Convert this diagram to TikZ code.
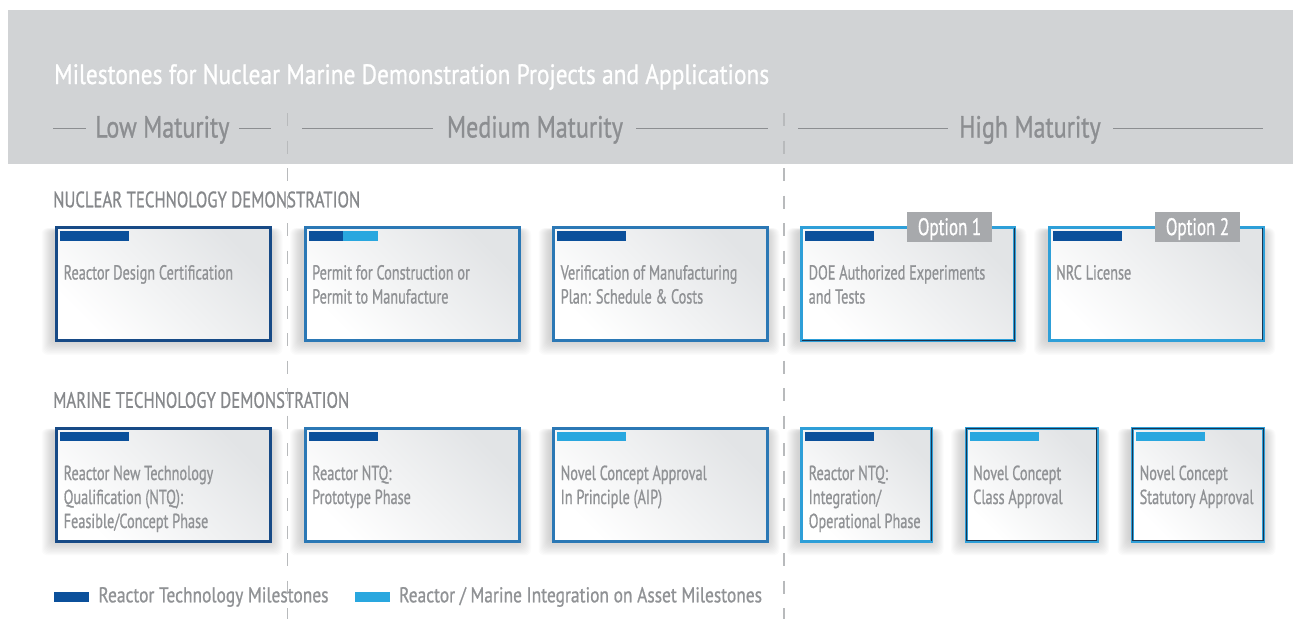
\documentclass[tikz,border=0pt]{standalone}
\usepackage{fontspec}
\setmainfont{PT Sans}[FakeBold=1]
\usepackage{graphicx}
\usetikzlibrary{calc}

\definecolor{banner}{HTML}{D1D3D5}
\definecolor{matgray}{HTML}{8C8E91}
\definecolor{headgray}{HTML}{86888B}
\definecolor{cardtextgray}{HTML}{909295}
\definecolor{dashgray}{HTML}{B8BABC}
\definecolor{navy}{HTML}{174A86}
\definecolor{midblue}{HTML}{2B78B5}
\definecolor{lightblue}{HTML}{2E9FD8}
\definecolor{inkline}{HTML}{1C3550}
\definecolor{darkbar}{HTML}{0B509B}
\definecolor{lightbar}{HTML}{29A7DF}
\definecolor{cardtop}{HTML}{E2E4E6}
\definecolor{taggray}{HTML}{A7A9AC}

% font sizes for each kind of text
\newcommand\titlefont{\fontsize{28}{34}\selectfont}
\newcommand\matfont{\fontsize{30.5}{36}\selectfont}
\newcommand\headfont{\fontsize{22.3}{26}\selectfont}
\newcommand\cardfont{\fontsize{20.3}{24}\selectfont}
\newcommand\legfont{\fontsize{21.4}{26}\selectfont}
\newcommand\optfont{\fontsize{24}{28}\selectfont}

% horizontal condensing factor: target width / natural width of a sample
\newlength\natw
\newcommand\fitfactor[4]{%
  \settowidth{\natw}{#2#3}%
  \pgfmathsetmacro#1{#4/\natw}}

\newcommand\cl[1]{\scalebox{\cardsx}[1]{#1}}
\newcommand\cardlines[1]{\begin{tabular}[t]{@{}l@{}}#1\end{tabular}}

% card: shadow, then the shaded box node  {name}{left}{top}{outer width}{border colour}
\newcommand\card[5]{%
  \foreach \k in {1,...,12}{
    \fill[black,opacity=0.016,rounded corners=6pt]
      (#2-\k, #3+6-0.2*\k) rectangle (#2+#4+\k, #3+116+1.2*\k);
  }
  \node[cardbox, draw=#5, minimum width={#4*1pt-3pt}] (#1) at (#2+1.5,#3+1.5) {};
}

\begin{document}
\fitfactor\titlesx\titlefont{Milestones for Nuclear Marine Demonstration Projects and Applications}{715}%
\fitfactor\matsx\matfont{Medium Maturity}{176}%
\fitfactor\headsx\headfont{NUCLEAR TECHNOLOGY DEMONSTRATION}{307}%
\fitfactor\cardsx\cardfont{Reactor Design Certification}{169.4}%
\fitfactor\legsx\legfont{Reactor Technology Milestones}{230}%
\fitfactor\optsx\optfont{Option 1}{63.3}%
\begin{tikzpicture}[x=1pt,y=-1pt,
  txt/.style={inner sep=0pt, anchor=base west},
  cardbox/.style={anchor=north west, inner sep=0pt, line width=3pt,
    minimum height=113pt, top color=cardtop, bottom color=white, shading angle=-45},
  cardtext/.style={txt, font=\cardfont, text=cardtextgray},
  bar/.style={anchor=north west, inner sep=0pt, minimum width=69pt, minimum height=9.5pt},
  halfbar/.style={bar, minimum width=34.5pt},
  tag/.style={fill=taggray, text=white, font=\optfont, inner sep=0pt,
    minimum width=85.6pt, minimum height=30pt, text height=16.8pt, text depth=0pt},
  matline/.style={draw=matgray, line width=1.2pt},
  sep/.style={draw=dashgray, line width=1.3pt, dash pattern=on 13pt off 14.5pt},
  inner edge/.style={draw=inkline, line width=0.9pt},
  legbar/.style={anchor=north west, inner sep=0pt, minimum width=35pt, minimum height=10pt}
]
\useasboundingbox (0,0) rectangle (1293,619);

% header band
\fill[banner] (8,10) rectangle (1293,164);
\node[txt, text=white, font=\titlefont] (title) at (54,84)
  {\scalebox{\titlesx}[1]{Milestones for Nuclear Marine Demonstration Projects and Applications}};

% maturity labels with rules
\node[txt, anchor=base, font=\matfont, text=matgray] (low) at (162.4,137.5) {\scalebox{\matsx}[1]{Low Maturity}};
\node[txt, anchor=base, font=\matfont, text=matgray] (med) at (535,137.5) {\scalebox{\matsx}[1]{Medium Maturity}};
\node[txt, anchor=base, font=\matfont, text=matgray] (high) at (1030,137.5) {\scalebox{\matsx}[1]{High Maturity}};
\coordinate (la) at (53,128.5);   \coordinate (lb) at (85.5,128.5);
\coordinate (lc) at (239,128.5);  \coordinate (ld) at (270.5,128.5);
\coordinate (ma) at (302,128.5);  \coordinate (mb) at (433,128.5);
\coordinate (mc) at (636,128.5);  \coordinate (md) at (768,128.5);
\coordinate (ha) at (798,128.5);  \coordinate (hb) at (948,128.5);
\coordinate (hc) at (1113,128.5); \coordinate (hd) at (1263,128.5);
\draw[matline] (la) -- (lb) (lc) -- (ld) (ma) -- (mb) (mc) -- (md) (ha) -- (hb) (hc) -- (hd);

% section headings
\node[txt, font=\headfont, text=headgray] (nuchead) at (53,207.3) {\scalebox{\headsx}[1]{NUCLEAR TECHNOLOGY DEMONSTRATION}};
\node[txt, font=\headfont, text=headgray] (marhead) at (53,407.8) {\scalebox{\headsx}[1]{MARINE TECHNOLOGY DEMONSTRATION}};

% cards: nuclear row
\card{n1}{53.5}{224.5}{217}{navy}
\card{n2}{302}{224.5}{217}{midblue}
\card{n3}{550.5}{224.5}{217}{midblue}
\card{n4}{798.5}{224.5}{216}{lightblue}
\card{n5}{1046}{224.5}{217}{lightblue}
% cards: marine row
\card{m1}{53.5}{425}{217}{navy}
\card{m2}{302}{425}{217}{midblue}
\card{m3}{550.5}{425}{217}{midblue}
\card{m4}{798.5}{425}{133}{lightblue}
\card{m5}{963}{425}{134}{lightblue}
\card{m6}{1129.5}{425}{134}{lightblue}

% dark inner edges on the high-maturity cards
\draw[inner edge] ([shift={(-1.8,1.8)}]n4.north east) -- ([shift={(-1.8,-1.8)}]n4.south east) -- ([shift={(1.8,-1.8)}]n4.south west);
\draw[inner edge] ([shift={(-1.8,1.8)}]n5.north east) -- ([shift={(-1.8,-1.8)}]n5.south east);
\draw[inner edge] ([shift={(-1.8,1.8)}]m4.north east) -- ([shift={(-1.8,-1.8)}]m4.south east);
\draw[inner edge] ([shift={(1.8,1.8)}]m5.north west) rectangle ([shift={(-1.8,-1.8)}]m5.south east);
\draw[inner edge] ([shift={(1.8,1.8)}]m6.north west) rectangle ([shift={(-1.8,-1.8)}]m6.south east);

% maturity separators
\coordinate (s1top) at (287.3,113); \coordinate (s1bot) at (287.3,619);
\coordinate (s2top) at (784,113);   \coordinate (s2bot) at (784,619);
\draw[sep] (s1top) -- (s1bot);
\draw[sep] (s2top) -- (s2bot);

% milestone bars
\node[bar, fill=darkbar] (n1bar) at ($(n1.north west)+(5.2,5)$) {};
\node[halfbar, fill=darkbar] (n2bara) at ($(n2.north west)+(5.2,5)$) {};
\node[halfbar, fill=lightbar] (n2barb) at ($(n2.north west)+(39.7,5)$) {};
\node[bar, fill=darkbar] (n3bar) at ($(n3.north west)+(5.2,5)$) {};
\node[bar, fill=darkbar] (n4bar) at ($(n4.north west)+(5.2,5)$) {};
\node[bar, fill=darkbar] (n5bar) at ($(n5.north west)+(5.2,5)$) {};
\node[bar, fill=darkbar] (m1bar) at ($(m1.north west)+(5.2,5)$) {};
\node[bar, fill=darkbar] (m2bar) at ($(m2.north west)+(5.2,5)$) {};
\node[bar, fill=lightbar] (m3bar) at ($(m3.north west)+(5.2,5)$) {};
\node[bar, fill=darkbar] (m4bar) at ($(m4.north west)+(5.2,5)$) {};
\node[bar, fill=lightbar] (m5bar) at ($(m5.north west)+(5.2,5)$) {};
\node[bar, fill=lightbar] (m6bar) at ($(m6.north west)+(5.2,5)$) {};

% card texts
\node[cardtext] (n1t) at ($(n1.north west)+(8.5,53.5)$) {\cardlines{\cl{Reactor Design Certification}}};
\node[cardtext] (n2t) at ($(n2.north west)+(8.5,53.5)$) {\cardlines{\cl{Permit for Construction or}\\\cl{Permit to Manufacture}}};
\node[cardtext] (n3t) at ($(n3.north west)+(8.5,53.5)$) {\cardlines{\cl{Verification of Manufacturing}\\\cl{Plan: Schedule \& Costs}}};
\node[cardtext] (n4t) at ($(n4.north west)+(8.5,53.5)$) {\cardlines{\cl{DOE Authorized Experiments}\\\cl{and Tests}}};
\node[cardtext] (n5t) at ($(n5.north west)+(8.5,53.5)$) {\cardlines{\cl{NRC License}}};
\node[cardtext] (m1t) at ($(m1.north west)+(8.5,53.5)$) {\cardlines{\cl{Reactor New Technology}\\\cl{Qualification (NTQ):}\\\cl{Feasible/Concept Phase}}};
\node[cardtext] (m2t) at ($(m2.north west)+(8.5,53.5)$) {\cardlines{\cl{Reactor NTQ:}\\\cl{Prototype Phase}}};
\node[cardtext] (m3t) at ($(m3.north west)+(8.5,53.5)$) {\cardlines{\cl{Novel Concept Approval}\\\cl{In Principle (AIP)}}};
\node[cardtext] (m4t) at ($(m4.north west)+(8.5,53.5)$) {\cardlines{\cl{Reactor NTQ:}\\\cl{Integration/}\\\cl{Operational Phase}}};
\node[cardtext] (m5t) at ($(m5.north west)+(8.5,53.5)$) {\cardlines{\cl{Novel Concept}\\\cl{Class Approval}}};
\node[cardtext] (m6t) at ($(m6.north west)+(8.5,53.5)$) {\cardlines{\cl{Novel Concept}\\\cl{Statutory Approval}}};

% option tags
\node[tag] (opt1) at (949.5,226.7) {\scalebox{\optsx}[1]{Option 1}};
\node[tag] (opt2) at (1197.5,226.7) {\scalebox{\optsx}[1]{Option 2}};

% legend
\node[legbar, fill=darkbar] (leg1) at (53.3,591.7) {};
\node[txt, font=\legfont, text=cardtextgray] (leg1t) at (98.3,602.3) {\scalebox{\legsx}[1]{Reactor Technology Milestones}};
\node[legbar, fill=lightbar] (leg2) at (355,591.7) {};
\node[txt, font=\legfont, text=cardtextgray] (leg2t) at (399,602.3) {\scalebox{\legsx}[1]{Reactor / Marine Integration on Asset Milestones}};
\end{tikzpicture}
\end{document}
